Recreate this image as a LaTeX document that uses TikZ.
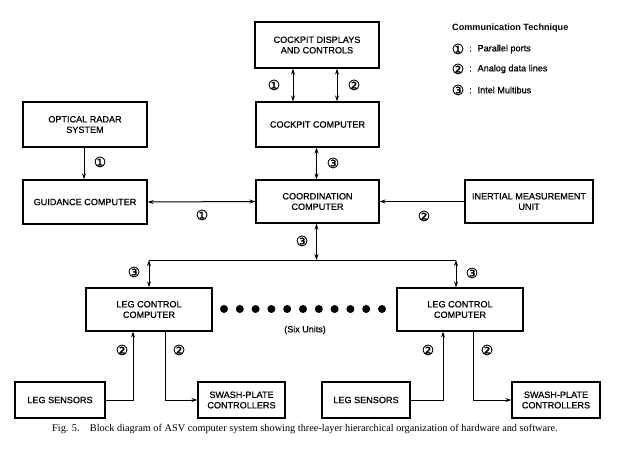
\documentclass[tikz,border=0pt]{standalone}
\usepackage{fontspec}
\setmainfont{Liberation Serif}
\setsansfont{Liberation Sans}
\newfontfamily\medfont[FakeBold=0.6]{Liberation Sans}
\newfontfamily\symfont[FakeBold=1.2]{DejaVu Sans}
\usetikzlibrary{arrows.meta}
\tikzset{
  blk/.style={draw, line width=1.3pt, rectangle, align=center, inner sep=0pt,
    font=\medfont\fontsize{9.1}{10.5}\selectfont},
  conn/.style={line width=1pt},
  tip/.style={-{Stealth[length=6pt,width=4pt]}},
  both/.style={{Stealth[length=6pt,width=4pt]}-{Stealth[length=6pt,width=4pt]}},
  num/.style={font=\symfont\fontsize{14}{14}\selectfont, inner sep=0pt},
  dotn/.style={circle, fill=black, minimum size=8pt, inner sep=0pt},
  leg/.style={anchor=west, inner sep=0pt, font=\medfont\fontsize{9.1}{10}\selectfont}
}
\begin{document}
\begin{tikzpicture}[x=1pt,y=-1pt]
\useasboundingbox[fill=white] (0,0) rectangle (634,461);
% boxes
\node[blk, minimum width=124pt, minimum height=46pt] (cpd) at (317,45) {COCKPIT DISPLAYS\\AND CONTROLS};
\node[blk, minimum width=123pt, minimum height=45pt] (cpc) at (317.5,124.5) {COCKPIT COMPUTER};
\node[blk, minimum width=124pt, minimum height=45pt] (ors) at (85,124.5) {OPTICAL RADAR\\SYSTEM};
\node[blk, minimum width=124pt, minimum height=44pt] (gc) at (85,202) {GUIDANCE COMPUTER};
\node[blk, minimum width=123pt, minimum height=43pt] (cc) at (317.5,201.5) {COORDINATION\\COMPUTER};
\node[blk, minimum width=128pt, minimum height=43pt] (imu) at (529,201.5) {INERTIAL MEASUREMENT\\UNIT};
\node[blk, minimum width=126pt, minimum height=43pt] (lcl) at (149,309.5) {LEG CONTROL\\COMPUTER};
\node[blk, minimum width=126pt, minimum height=43pt] (lcr) at (460,309.5) {LEG CONTROL\\COMPUTER};
\node[blk, minimum width=90pt, minimum height=36pt] (lsl) at (60,400) {LEG SENSORS};
\node[blk, minimum width=87pt, minimum height=36pt] (spl) at (241.5,400) {SWASH-PLATE\\CONTROLLERS};
\node[blk, minimum width=88pt, minimum height=36pt] (lsr) at (366,400) {LEG SENSORS};
\node[blk, minimum width=88pt, minimum height=36pt] (spr) at (556,400) {SWASH-PLATE\\CONTROLLERS};
% bus coordinates
\coordinate (busm) at (316.5,260);
\coordinate (busl) at (149,260);
\coordinate (busr) at (456,260);
% connectors
\draw[conn,both] (cpd.south -| 293,0) -- (cpc.north -| 293,0);
\draw[conn,both] (cpd.south -| 337,0) -- (cpc.north -| 337,0);
\draw[conn,both] (cpc.south -| 316.5,0) -- (cc.north -| 316.5,0);
\draw[conn,tip] (ors.south -| 84,0) -- (gc.north -| 84,0);
\draw[conn,both] (gc.east) -- (cc.west);
\draw[conn,tip] (imu.west) -- (cc.east);
\draw[conn,both] (cc.south -| busm) -- (busm);
\draw[conn] (busl) -- (busr);
\draw[conn,both] (busl) -- (lcl.north -| busl);
\draw[conn,both] (busr) -- (lcr.north -| busr);
\draw[conn,tip] (lsl.east) -| (lcl.south -| 133,0);
\draw[conn,tip] (lcl.south -| 165,0) |- (spl.west);
\draw[conn,tip] (lsr.east) -| (lcr.south -| 443,0);
\draw[conn,tip] (lcr.south -| 473,0) |- (spr.west);
% labels
\node[num] (n1) at (274,85) {①};
\node[num] (n2) at (354,85) {②};
\node[num] (n3) at (333,163) {③};
\node[num] (n4) at (100,162) {①};
\node[num] (n5) at (202,215) {①};
\node[num] (n6) at (424,216) {②};
\node[num] (n7) at (302,241) {③};
\node[num] (n8) at (134,272) {③};
\node[num] (n9) at (472,273) {③};
\node[num] (n10) at (122,350) {②};
\node[num] (n11) at (179,350) {②};
\node[num] (n12) at (428,350) {②};
\node[num] (n13) at (487,350) {②};
% dots
\foreach \i in {0,...,10} { \node[dotn] (d\i) at ({224+15.8*\i},309) {}; }
\node[font=\medfont\fontsize{9}{10}\selectfont] (six) at (305,330) {(Six Units)};
% legend
\node[leg, font=\sffamily\bfseries\fontsize{9.1}{10}\selectfont] (lt) at (452,28) {Communication Technique};
\node[num] (l1) at (458,49) {①};
\node[leg] (l1t) at (469,49) {: \ Parallel ports};
\node[num] (l2) at (458,69) {②};
\node[leg] (l2t) at (469,69) {: \ Analog data lines};
\node[num] (l3) at (458,90) {③};
\node[leg] (l3t) at (469,90) {: \ Intel Multibus};
% caption
\node[anchor=west, inner sep=0pt, font=\fontsize{10.3}{12}\selectfont] (cap) at (52,429) {Fig. 5.\quad Block diagram of ASV computer system showing three-layer hierarchical organization of hardware and software.};
\end{tikzpicture}
\end{document}
